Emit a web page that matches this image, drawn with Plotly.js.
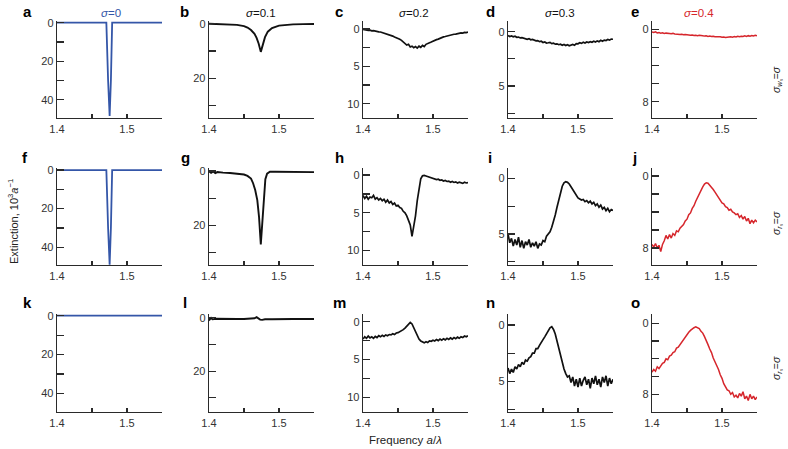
<!DOCTYPE html>
<html><head><meta charset="utf-8">
<script src="https://cdn.plot.ly/plotly-3.0.1.min.js"></script>
<style>html,body{margin:0;padding:0;background:#fff;overflow:hidden}#wrap{position:relative;width:788px;height:449px}.pl{position:absolute}</style>
</head><body><div id="wrap"><div id="overlay" class="pl" style="left:0;top:0;width:788px;height:449px"></div></div>
<script>
// ---------- DATA ----------
const sigmaLabels = ["σ=0", "σ=0.1", "σ=0.2", "σ=0.3", "σ=0.4"];
const panelLetters = ["a","b","c","d","e","f","g","h","i","j","k","l","m","n","o"];
const rowLabels = ["w", "r", "r"];
// tick positions and labels per column ("" = unlabeled tick)
const yTickVals = [[0,10,20,30,40],[0,10,20,30],[0,2.5,5,7.5,10],[0,2.5,5,7.5],[0,2,4,6,8]];
const yTickText = [["0","","20","","40"],["0","","20",""],["0","","5","","10"],["0","","5",""],["0","","","","8"]];
const xTickVals = [1.4, 1.45, 1.5, 1.55];
const xTickText = ["1.4", "", "1.5", ""];

// shared frequency grid (a/λ) for the noisy spectra
const freqGrid = [1.4000,1.4025,1.4050,1.4075,1.4100,1.4125,1.4150,1.4175,1.4200,1.4225,
1.4250,1.4275,1.4300,1.4325,1.4350,1.4375,1.4400,1.4425,1.4450,1.4475,
1.4500,1.4525,1.4550,1.4575,1.4600,1.4625,1.4650,1.4675,1.4700,1.4725,
1.4750,1.4775,1.4800,1.4825,1.4850,1.4875,1.4900,1.4925,1.4950,1.4975,
1.5000,1.5025,1.5050,1.5075,1.5100,1.5125,1.5150,1.5175,1.5200,1.5225,
1.5250,1.5275,1.5300,1.5325,1.5350,1.5375,1.5400,1.5425,1.5450,1.5475,1.5500];

// row 1
const freqA = [1.40, 1.4705, 1.4730, 1.4752, 1.4770, 1.4788, 1.55];
const extA  = [0, 0, 30, 48.5, 30, 0, 0];
const freqB = [1.40,1.41,1.42,1.43,1.44,1.45,1.455,1.46,1.465,1.468,1.471,1.474,1.477,1.480,1.484,1.49,1.50,1.51,1.52,1.535,1.55];
const extB  = [0,0.05,0.1,0.15,0.4,0.85,1.4,2.3,3.7,5.2,7.3,10.3,7.6,4.9,2.9,1.6,0.7,0.4,0.25,0.15,0.1];
const extC = [0.05,0.12,0.10,0.18,0.15,0.24,0.22,0.30,0.28,0.38,0.40,0.47,0.55,0.58,0.70,0.74,0.86,0.95,1.08,1.15,
1.30,1.38,1.52,1.70,1.85,2.15,2.05,2.40,2.30,2.50,2.35,2.55,2.30,2.45,2.20,2.35,2.05,2.00,1.85,1.75,
1.62,1.55,1.42,1.35,1.22,1.18,1.05,1.00,0.92,0.88,0.80,0.75,0.70,0.68,0.62,0.60,0.52,0.55,0.45,0.48,0.40];
const extD = [0.35,0.45,0.40,0.48,0.42,0.52,0.50,0.58,0.55,0.62,0.66,0.70,0.64,0.75,0.72,0.80,0.85,0.82,0.92,0.88,
1.00,0.95,1.05,1.02,0.98,1.10,1.05,1.15,1.12,1.20,1.15,1.25,1.18,1.28,1.20,1.30,1.22,1.18,1.25,1.10,
1.12,1.02,1.08,0.98,1.05,0.95,1.00,0.92,0.98,0.88,0.95,0.85,0.92,0.80,0.88,0.78,0.82,0.72,0.78,0.68,0.70];
const extE = [0.30,0.35,0.28,0.40,0.36,0.42,0.38,0.45,0.42,0.48,0.46,0.50,0.45,0.52,0.55,0.50,0.58,0.54,0.60,0.57,
0.62,0.60,0.66,0.62,0.68,0.65,0.70,0.66,0.72,0.70,0.75,0.72,0.78,0.74,0.80,0.76,0.82,0.80,0.86,0.82,
0.88,0.84,0.90,0.85,0.88,0.82,0.86,0.80,0.85,0.78,0.82,0.76,0.80,0.72,0.78,0.70,0.76,0.68,0.74,0.66,0.70];

// row 2
const freqF = [1.40, 1.4705, 1.4730, 1.4752, 1.4770, 1.4788, 1.55];
const extF  = [0, 0, 30, 49.0, 30, 0, 0];
const freqG = [1.40,1.403,1.406,1.409,1.412,1.416,1.42,1.43,1.44,1.45,1.455,1.46,1.463,1.466,1.469,1.4715,1.474,1.4765,1.4785,1.4805,1.483,1.487,1.495,1.51,1.53,1.55];
const extG  = [0.1,0.7,0.2,0.8,0.4,0.6,0.6,0.75,0.95,1.3,1.8,2.8,4.5,7.0,10.7,17,27,18,8.5,3.0,1.0,0.3,0.3,0.3,0.35,0.4];
const extH = [2.7,3.1,2.8,3.2,2.9,3.0,2.7,3.2,3.0,3.3,3.1,3.4,3.2,3.6,3.3,3.7,3.5,3.9,3.7,4.1,
4.0,4.3,4.4,4.8,5.0,5.4,6.0,6.6,8.1,6.9,5.4,3.4,1.6,0.5,0.1,0.05,0.12,0.2,0.3,0.35,
0.45,0.5,0.6,0.55,0.7,0.65,0.8,0.72,0.85,0.8,0.95,0.85,0.98,0.9,1.05,0.95,1.0,1.1,0.95,1.05,1.0];
const extI = [5.0,5.8,5.4,6.1,5.5,6.0,5.3,6.2,5.6,6.3,5.7,6.0,5.5,6.2,5.8,6.1,5.7,6.3,5.9,6.0,
5.6,5.7,5.2,5.0,4.8,4.4,3.9,3.3,2.6,1.9,1.2,0.7,0.4,0.3,0.35,0.5,0.75,1.0,1.35,1.55,
1.75,1.85,1.95,1.9,2.1,2.0,2.2,2.05,2.3,2.15,2.45,2.3,2.6,2.4,2.75,2.6,2.9,2.7,3.0,2.8,2.9];
const extJ = [7.6,7.9,7.5,8.0,7.7,8.4,7.6,7.2,6.6,7.0,6.5,6.9,6.4,6.6,6.1,6.2,5.8,5.6,5.4,5.0,
4.8,4.3,4.1,3.6,3.3,2.8,2.4,1.9,1.5,1.2,0.9,0.75,0.8,1.0,1.2,1.5,1.8,2.1,2.4,2.6,
3.0,3.1,3.4,3.5,3.8,3.7,4.0,4.1,4.3,4.2,4.6,4.4,4.8,4.5,5.0,4.7,5.3,4.9,5.2,4.9,5.1];

// row 3
const freqK = [1.40, 1.55];
const extK  = [0, 0];
const freqL = [1.40,1.401,1.403,1.405,1.41,1.42,1.43,1.44,1.45,1.46,1.465,1.468,1.470,1.473,1.476,1.48,1.49,1.50,1.52,1.55];
const extL  = [0.2,0.7,0.1,0.6,0.4,0.5,0.5,0.5,0.5,0.4,0.2,-0.2,0.1,0.7,0.8,0.6,0.6,0.5,0.5,0.5];
const extM = [2.3,2.0,2.2,1.9,2.15,2.0,2.2,1.95,2.1,1.85,2.0,1.8,1.95,1.75,1.85,1.7,1.75,1.6,1.7,1.5,
1.45,1.35,1.2,1.05,0.85,0.6,0.3,0.1,0.3,0.8,1.4,1.9,2.3,2.55,2.7,2.8,2.65,2.75,2.55,2.6,
2.45,2.55,2.35,2.5,2.3,2.45,2.25,2.4,2.2,2.35,2.15,2.3,2.1,2.25,2.05,2.2,2.0,2.1,1.9,2.0,1.85];
const extN = [3.8,4.3,3.9,4.2,3.7,3.9,3.5,3.7,3.3,3.5,3.1,3.2,2.9,2.8,2.5,2.5,2.1,2.1,1.8,1.6,
1.3,1.05,0.75,0.45,0.25,0.15,0.4,0.8,1.4,2.1,2.8,3.4,3.9,4.3,4.6,4.5,5.1,4.6,5.4,4.8,
5.5,4.7,5.4,4.9,4.6,5.3,4.8,5.6,4.7,5.2,4.5,5.3,4.8,5.5,4.6,5.1,4.5,5.4,4.7,5.2,4.8];
const extO = [5.5,5.2,5.4,4.9,5.1,4.8,4.5,4.4,4.0,4.1,3.7,3.6,3.3,3.2,2.8,2.7,2.4,2.1,1.8,1.5,
1.2,1.0,0.8,0.6,0.5,0.4,0.5,0.6,0.9,1.1,1.5,1.9,2.4,2.9,3.3,3.9,4.3,4.8,5.2,5.8,
6.2,6.8,7.1,7.5,7.6,8.0,7.8,8.3,8.1,8.4,7.9,8.2,7.7,8.5,8.2,8.7,8.0,8.5,8.2,8.6,8.3];

// ---------- LAYOUT / STYLE ----------
const W = 788, H = 449;
const BLUE = "rgb(52,86,168)", BLACK = "#111", RED = "rgb(214,38,44)";
const colX = [57, 209, 363, 508, 652], colW = 105;
const rowY = [[21,118],[168,265],[314,412]];
const yRanges = [
  [[49.5,-0.88],[34.5,-1.0],[11.9,-1.07],[7.94,-0.98],[9.8,-0.92]],
  [[49.2,-1.05],[34.6,-1.1],[11.9,-0.93],[7.8,-0.94],[9.89,-0.89]],
  [[49.6,-0.88],[35.3,-1.39],[11.96,-1.02],[7.7,-0.97],[9.99,-1.05]]
];
const colColor = [BLUE, BLACK, BLACK, BLACK, RED];
const colWidth = [1.8, 1.9, 1.7, 1.7, 1.5];
const panels = [
  [freqA,extA],[freqB,extB],[freqGrid,extC],[freqGrid,extD],[freqGrid,extE],
  [freqF,extF],[freqG,extG],[freqGrid,extH],[freqGrid,extI],[freqGrid,extJ],
  [freqK,extK],[freqL,extL],[freqGrid,extM],[freqGrid,extN],[freqGrid,extO]
];
const FONT = "Liberation Sans, Arial, sans-serif";
const AX = "#2a2a2a";
const TICKFONT = {family: FONT, size: 11, color: "#333"};
const CFG = {staticPlot: true, displayModeBar: false};

// ---- overlay with all free texts (letters, σ titles, axis titles, row labels) ----
function ann(text, px, py, opts) {
  return Object.assign({
    text: text, xref: "paper", yref: "paper", x: px/W, y: 1 - py/H,
    xanchor: "center", yanchor: "middle", showarrow: false,
    font: {family: FONT, size: 11, color: "#222"}
  }, opts || {});
}
const overlayAnn = [];
const letterPos = [
  [27,11],[184,11],[339,11],[491,11],[635,11],
  [25,157],[185,157],[339,157],[490,157],[634,157],
  [27,302],[185,302],[339,302],[491,302],[635,302]
];
panelLetters.forEach((L, i) => overlayAnn.push(ann("<b>"+L+"</b>", letterPos[i][0], letterPos[i][1],
  {font: {family: FONT, size: 15, color: "#000"}})));
const sigmaPos = [111, 261, 414, 560, 699];
sigmaLabels.forEach((s, i) => overlayAnn.push(ann("<i>σ</i>" + s.slice(1), sigmaPos[i], 13,
  {font: {family: FONT, size: 11.5, color: colColor[i]}})));
const rowLabelY = [80, 223, 368];
rowLabels.forEach((w, i) => overlayAnn.push(ann("<i>σ</i><sub><i>" + w + "</i>ₛ</sub>=<i>σ</i>", 777, rowLabelY[i],
  {textangle: -90, font: {family: FONT, size: 10.5, color: "#222"}})));
overlayAnn.push(ann("Extinction, 10<sup>3</sup><i>a</i><sup>−1</sup>", 13, 222,
  {textangle: -90, font: {family: FONT, size: 11, color: "#222"}}));
overlayAnn.push(ann("Frequency <i>a</i>/<i>λ</i>", 405, 440,
  {font: {family: FONT, size: 11.5, color: "#222"}}));
Plotly.newPlot("overlay", [], {
  width: W, height: H, margin: {l:0,r:0,t:0,b:0},
  paper_bgcolor: "#fff", plot_bgcolor: "rgba(0,0,0,0)",
  xaxis: {visible: false, range: [0,1]}, yaxis: {visible: false, range: [0,1]},
  showlegend: false, annotations: overlayAnn
}, CFG);

// ---- one small Plotly chart per panel ----
const wrap = document.getElementById("wrap");
const PADL = 40, PADR = 8, PADT = 8, PADB = 24;
for (let r = 0; r < 3; r++) {
  for (let c = 0; c < 5; c++) {
    const n = r*5 + c;
    const div = document.createElement("div");
    div.className = "pl";
    const left = colX[c] - PADL, top = rowY[r][0] - PADT;
    const w = colW + PADL + PADR, h = (rowY[r][1] - rowY[r][0]) + PADT + PADB;
    div.style.left = left + "px"; div.style.top = top + "px";
    div.style.width = w + "px"; div.style.height = h + "px";
    wrap.appendChild(div);
    const p = panels[n];
    Plotly.newPlot(div, [{
      type: "scatter", mode: "lines", x: p[0], y: p[1],
      line: {color: colColor[c], width: colWidth[c]}
    }], {
      width: w, height: h, margin: {l: PADL, r: PADR, t: PADT, b: PADB},
      paper_bgcolor: "rgba(0,0,0,0)", plot_bgcolor: "rgba(0,0,0,0)",
      showlegend: false, font: {family: FONT, size: 11, color: "#333"},
      xaxis: {
        range: [1.4, 1.55], showline: true, linecolor: AX, linewidth: 1.3,
        ticks: "inside", ticklen: 4, tickwidth: 1.2, tickcolor: AX,
        tickmode: "array", tickvals: xTickVals, ticktext: xTickText,
        showgrid: false, zeroline: false, tickfont: TICKFONT
      },
      yaxis: {
        range: yRanges[r][c], showline: true, linecolor: AX, linewidth: 1.3,
        ticks: "inside", ticklen: 7, tickwidth: 1.2, tickcolor: AX,
        tickmode: "array", tickvals: yTickVals[c], ticktext: yTickText[c],
        showgrid: false, zeroline: false, tickfont: TICKFONT
      }
    }, CFG);
  }
}
</script></body></html>
